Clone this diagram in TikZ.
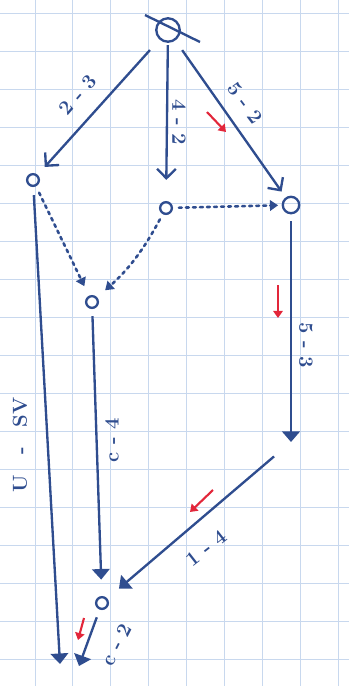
\documentclass[tikz,border=0pt]{standalone}
\usepackage{tikz}
\usetikzlibrary{arrows.meta}
\definecolor{pen}{RGB}{47,77,143}
\definecolor{paper}{RGB}{200,216,238}
\definecolor{redpen}{RGB}{226,38,58}

\begin{document}
\begin{tikzpicture}[x=0.03cm,y=-0.03cm,
vx/.style={circle,draw=pen,line width=2pt,inner sep=0pt,minimum size=10pt},
edge/.style={pen,line width=2pt},
dots/.style={pen,line width=2.2pt,line cap=round,dash pattern=on 2.5pt off 3.5pt},
barb/.style={-{Straight Barb[length=8pt,width=16pt]}},
tri/.style={-{Triangle[length=9pt,width=15pt]}},
smalltri/.style={-{Triangle[length=7pt,width=9pt]}},
lbl/.style={pen,font=\LARGE\bfseries},
redarrow/.style={redpen,line width=1.8pt,-{Triangle[length=6pt,width=8pt]}}]
\useasboundingbox (0,0) rectangle (349,686);
\foreach \i in {0,...,9}\draw[paper,line width=0.7pt](-2.9+37.9*\i,0)--(-2.9+37.9*\i,686);
\foreach \j in {0,...,17}\draw[paper,line width=0.7pt](0,13+38*\j)--(349,13+38*\j);
\node[vx,minimum size=20pt] (T) at (168,30) {};
\node[vx] (L) at (33,180) {};
\node[vx] (M) at (166,208) {};
\node[vx,minimum size=14pt] (R) at (291,205) {};
\node[vx] (P) at (92,302) {};
\node[vx] (B) at (102,603) {};
\coordinate (Q) at (291,442);
\coordinate (E1) at (60,664);
\coordinate (E2) at (79,666);
\draw[edge] (145,15)--(200,42);
\draw[edge,barb,shorten <=12pt,shorten >=9pt] (T)--(L);
\draw[edge,barb,shorten <=2pt,shorten >=18pt] (T)--(M);
\draw[edge,barb,shorten <=10pt,shorten >=6pt] (T)--(R);
\draw[dots,smalltri,shorten <=5pt,shorten >=3pt] (M)--(R);
\draw[dots,smalltri,shorten <=6pt,shorten >=9pt] (L)--(P);
\draw[dots,smalltri,shorten <=5pt,shorten >=9pt] (M) to[bend left=10] (P);
\draw[edge,tri,shorten <=6pt] (R)--(Q);
\draw[edge,tri,shorten <=19pt,shorten >=13pt] (Q)--(B);
\draw[edge,tri,shorten <=6pt,shorten >=14pt] (P)--(B);
\draw[edge,tri,shorten <=7pt] (L)--(E1);
\draw[edge,tri,shorten <=7pt] (B)--(E2);
\node[lbl,rotate=49] (l23) at (78,95) {2 - 3};
\node[lbl,rotate=-90] (l42) at (179,122) {4 - 2};
\node[lbl,rotate=-53] (l52) at (245,103) {5 - 2};
\node[lbl,rotate=-90] (l53) at (306,345) {5 - 3};
\node[lbl,rotate=38] (l14) at (206,548) {1 - 4};
\node[lbl,rotate=90] (lc4) at (112,440) {c - 4};
\node[lbl,rotate=90] (lusv) at (20,445) {U\quad-\quad SV};
\node[lbl,rotate=63] (lc2) at (117,645) {c - 2};
\draw[redarrow] (207,112)--(226,132);
\draw[redarrow] (278,285)--(278,318);
\draw[redarrow] (213,490)--(190,512);
\draw[redarrow] (84,618)--(78,640);
\end{tikzpicture}
\end{document}
